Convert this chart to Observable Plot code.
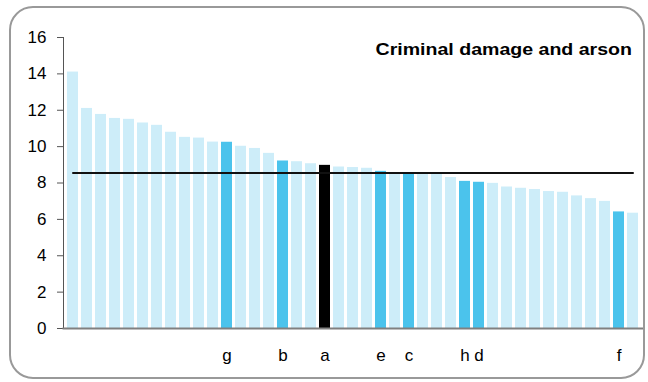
<!DOCTYPE html>
<html>
<head>
<meta charset="utf-8">
<script src="https://cdn.jsdelivr.net/npm/d3@7"></script>
<script src="https://cdn.jsdelivr.net/npm/@observablehq/plot@0.6"></script>
<style>
  html, body { margin: 0; padding: 0; background: #fff; }
  #wrap { position: relative; width: 648px; height: 382px; overflow: hidden; font-family: "Liberation Sans", Arial, sans-serif; }
  #wrap svg { position: absolute; left: 0; top: 0; }
  #border { position: absolute; left: 9px; top: 6px; width: 632px; height: 369px; border: 2px solid #999; border-radius: 24px; pointer-events: none; }
  #title { position: absolute; right: 16px; top: 40px; font-weight: bold; font-size: 17px; color: #000; transform-origin: right top; transform: scaleX(1.15); white-space: nowrap; }
</style>
</head>
<body>
<div id="wrap">
  <div id="border"></div>
  <div id="title">Criminal damage and arson</div>
</div>
<script>
const title = "Criminal damage and arson";
const values = [14.1, 12.1, 11.77, 11.55, 11.5, 11.3, 11.17, 10.79, 10.51, 10.47, 10.25, 10.24, 10.02, 9.9,
  9.63, 9.21, 9.17, 9.06, 8.97, 8.88, 8.85, 8.81, 8.64, 8.57, 8.57, 8.55, 8.52, 8.3,
  8.09, 8.04, 7.98, 7.78, 7.71, 7.64, 7.53, 7.49, 7.29, 7.14, 6.99, 6.41, 6.34];
const labels = ["", "", "", "", "", "", "", "", "", "", "", "g", "", "",
  "", "b", "", "", "a", "", "", "", "e", "", "c", "", "", "",
  "h", "d", "", "", "", "", "", "", "", "", "", "f", ""];
const selected = "a";
const average = 8.55;
const yTicks = [0, 2, 4, 6, 8, 10, 12, 14, 16];

const idx = d3.range(values.length);
const data = idx.map(i => ({i, v: values[i], label: labels[i]}));

const chart = Plot.plot({
  width: 648,
  height: 382,
  marginLeft: 63,
  marginRight: 6,
  marginTop: 37,
  marginBottom: 54,
  style: {fontFamily: "'Liberation Sans', Arial, sans-serif", background: "transparent"},
  x: {type: "band", domain: idx, paddingInner: 0.2, paddingOuter: 0.1, axis: null, label: null},
  y: {domain: [0, 16], axis: null, label: null},
  marks: [
    Plot.barY(data, {
      x: "i", y: "v",
      fill: d => d.label === selected ? "#000000" : (d.label !== "" ? "#4BC3EC" : "#CDEDF9")
    }),
    Plot.line([{i: 0, v: average}, {i: values.length - 1, v: average}], {x: "i", y: "v", stroke: "#111", strokeWidth: 2}),
    Plot.axisY({ticks: yTicks, tickSize: 6, tickPadding: 11, stroke: "#555", fill: "#000", fontSize: 17, label: null}),
    Plot.axisX({tickSize: 0, tickPadding: 20, tickFormat: i => labels[i], fill: "#000", fontSize: 17, label: null}),
    Plot.frame({anchor: "left", stroke: "#555"}),
    Plot.frame({anchor: "bottom", stroke: "#808080", strokeWidth: 2})
  ]
});
document.getElementById("wrap").prepend(chart);
</script>
</body>
</html>
